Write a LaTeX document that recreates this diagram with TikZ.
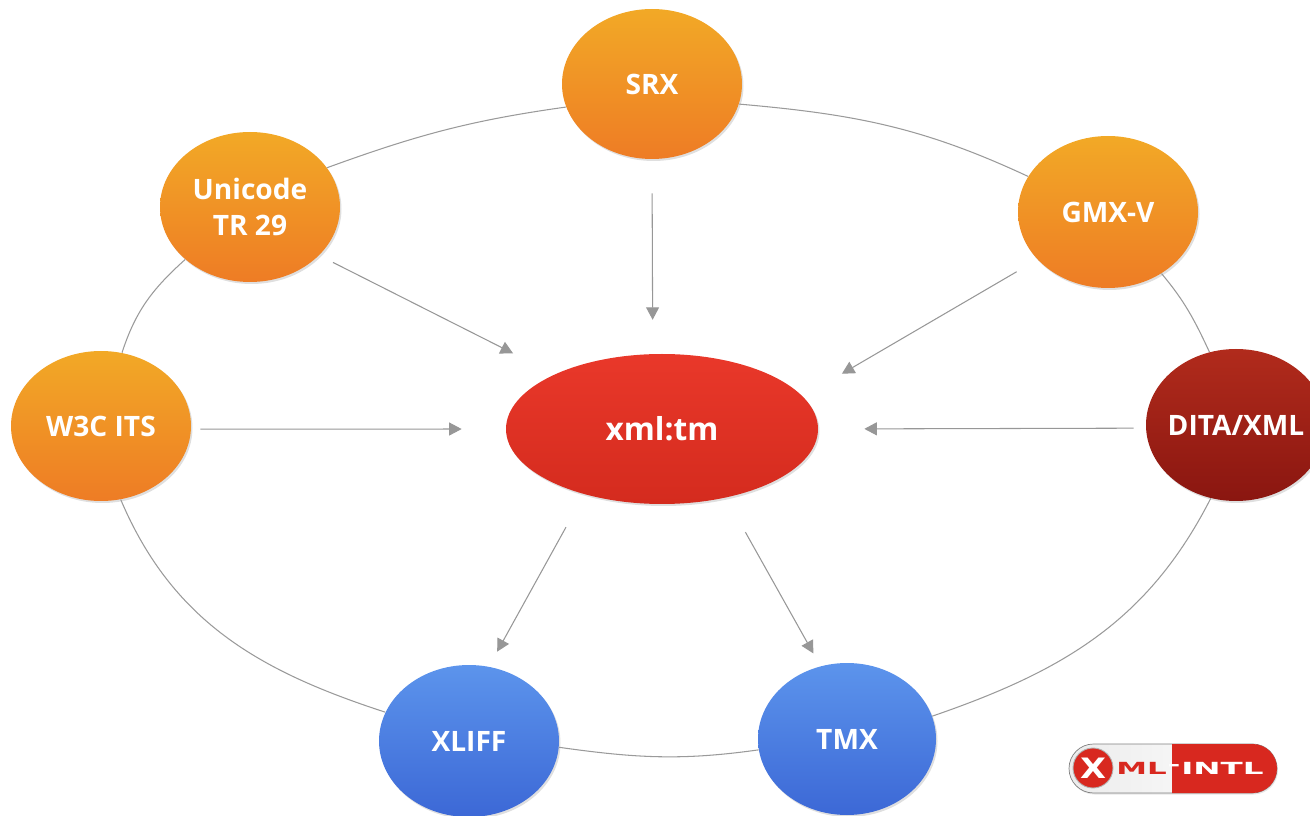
\documentclass[tikz,border=0pt]{standalone}
\usepackage{fontspec}
\setmainfont{Open Sans}
\newfontfamily\logofont{DejaVu Sans}
\usetikzlibrary{shapes.geometric,shadows,arrows.meta}

\definecolor{ringgray}{HTML}{9A9A9A}
\definecolor{arrowgray}{HTML}{979797}
\definecolor{logored}{HTML}{D8281F}
\definecolor{orangetop}{HTML}{F2A926}
\definecolor{orangebottom}{HTML}{EE7C25}
\definecolor{bluetop}{HTML}{5C94EC}
\definecolor{bluebottom}{HTML}{3C68D6}
\definecolor{redtop}{HTML}{E9382A}
\definecolor{redbottom}{HTML}{D42B1E}
\definecolor{darktop}{HTML}{B12B1C}
\definecolor{darkbottom}{HTML}{8A1610}
\tikzset{
	bubble/.style={ellipse,inner sep=0pt,minimum width=3.6cm,minimum height=3cm,align=center,text=white,
		font=\fontsize{16}{20}\selectfont\bfseries,drop shadow={shadow xshift=.03cm,shadow yshift=-.04cm,opacity=.25}},
	orangebubble/.style={bubble,top color=orangetop,bottom color=orangebottom},
	bluebubble/.style={bubble,top color=bluetop,bottom color=bluebottom},
	ring/.style={ringgray,line width=.6pt},
	link/.style={arrowgray,line width=.6pt,-{Triangle[length=.25cm,width=.26cm]}},
	logotext/.style={font=\logofont\fontsize{9.5}{9.5}\selectfont\bfseries,inner sep=0pt}
}

\begin{document}
\begin{tikzpicture}
			\useasboundingbox (0,0) rectangle (26.2,16.3);
			\node (srx) at (13.04,14.62) [orangebubble] {SRX};
			\node (unicode) at (5.0,12.16) [orangebubble] {Unicode\\TR 29};
			\node (gmx) at (22.16,12.06) [orangebubble,minimum height=3.04cm] {GMX-V};
			\node (w3c) at (2.02,7.78) [orangebubble] {W3C ITS};
			\node (dita) at (24.72,7.8) [bubble,inner xsep=-.25cm,minimum height=3.04cm,top color=darktop,bottom color=darkbottom] {DITA/XML};
			\node (xmltm) at (13.24,7.72) [bubble,minimum width=6.24cm,top color=redtop,bottom color=redbottom,font=\fontsize{18}{21}\selectfont\bfseries] {xml:tm};
			\node (xliff) at (9.38,1.48) [bluebubble,minimum height=3.04cm] {XLIFF};
			\node (tmx) at (16.94,1.52) [bluebubble,minimum width=3.56cm,minimum height=3.04cm] {TMX};
			\draw[ring] (srx.-13) to[out=-5,in=155] (gmx.156.5);
			\draw[ring] (srx.195) to[out=188,in=20] (unicode.27.7);
			\draw[ring] (unicode.219) to[out=222,in=72] (w3c.74);
			\draw[ring] (w3c.-75.6) to[out=-67,in=162] (xliff.161);
			\draw[ring] (xliff.-4.5) to[out=-8,in=188] (tmx.187);
			\draw[ring] (tmx.15) to[out=19,in=243] (dita.251);
			\draw[ring] (dita.110) to[out=115,in=-50] (gmx.-49);
			\draw[link,shorten <=.31cm,shorten >=.93cm] (unicode.-35.7)--(xmltm.153.5);
			\draw[link,shorten <=.68cm,shorten >=.68cm] (srx.south)--(xmltm.97.6);
			\draw[link,shorten <=.48cm,shorten >=.9cm] (gmx.214.4)--(xmltm.13.7);
			\draw[link,shorten <=.18cm,shorten >=.88cm] (w3c.-2)--(xmltm.west);
			\draw[link,shorten <=.24cm,shorten >=.92cm] (dita.182)--(xmltm.east);
			\draw[link,shorten <=.75cm,shorten >=.34cm] (xmltm.220.9)--(xliff.75.2);
			\draw[link,shorten <=.79cm,shorten >=.29cm] (xmltm.-47.7)--(tmx.110.4);
			\node (logo) at (23.46,.93) [rectangle,minimum width=4.16cm,minimum height=.98cm,rounded corners=.49cm,draw=gray,
				left color=gray!15,right color=white,drop shadow={shadow xshift=.02cm,shadow yshift=-.03cm,opacity=.2}] {};
			\fill[logored] (23.44,.44)--(25.05,.44) arc (-90:90:.49)--(23.44,1.42)--cycle;
			\node (logox) at (21.86,.94) [circle,minimum size=.8cm,inner sep=0pt,fill=logored,draw=gray!60,line width=.5pt,
				text=white,font=\logofont\fontsize{16}{16}\selectfont\bfseries] {\scalebox{1.2}[1]{X}};
			\node (logoml) at (22.83,.94) [logotext,text=logored,xscale=1.85] {ML};
			\node (logodash) at (23.48,.94) [logotext,text=white,xscale=1.85] {-};
			\node (logointl) at (24.45,.94) [logotext,text=white,xscale=1.95] {INTL};
		\end{tikzpicture}
\end{document}
